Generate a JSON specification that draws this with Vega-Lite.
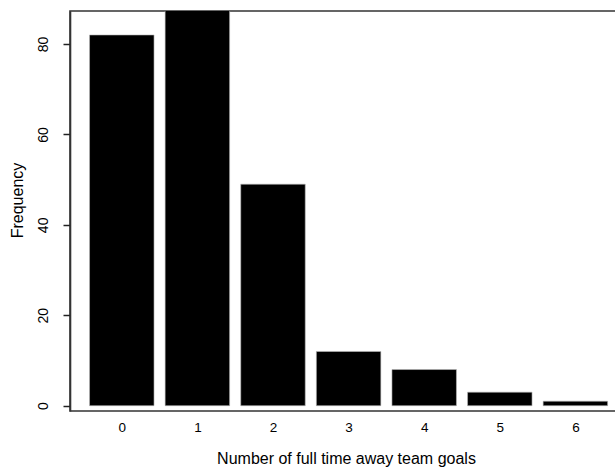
{
  "$schema": "https://vega.github.io/schema/vega-lite/v6.json",
  "autosize": "none",
  "padding": {"left": 70, "top": 11, "right": 0, "bottom": 56},
  "width": 546,
  "height": 400,
  "config": {
    "view": {"stroke": "#333", "strokeWidth": 1.6},
    "font": "Liberation Sans"
  },
  "data": {
    "values": [
      {"goals": 0, "frequency": 82},
      {"goals": 1, "frequency": 88},
      {"goals": 2, "frequency": 49},
      {"goals": 3, "frequency": 12},
      {"goals": 4, "frequency": 8},
      {"goals": 5, "frequency": 3},
      {"goals": 6, "frequency": 1}
    ]
  },
  "mark": {"type": "bar", "color": "black", "size": 64.5, "clip": true, "stroke": "#bbb", "strokeWidth": 0.6},
  "encoding": {
    "x": {
      "field": "goals",
      "type": "quantitative",
      "scale": {"domain": [-0.685, 6.537], "nice": false, "zero": false, "padding": 0},
      "axis": {
        "values": [0, 1, 2, 3, 4, 5, 6],
        "grid": false,
        "ticks": false,
        "domain": false,
        "labelFontSize": 13.5,
        "labelColor": "black",
        "labelPadding": 9,
        "labelBaseline": "top",
        "title": "Number of full time away team goals",
        "titleFontSize": 16,
        "titleFontWeight": "normal",
        "titleColor": "black",
        "titleX": 276,
        "titleY": 52.5,
        "titleBaseline": "alphabetic",
        "titleAlign": "center"
      }
    },
    "y": {
      "field": "frequency",
      "type": "quantitative",
      "scale": {"domain": [-1.17, 87.3], "nice": false, "zero": false, "padding": 0},
      "axis": {
        "values": [0, 20, 40, 60, 80],
        "grid": false,
        "domain": true,
        "domainColor": "#333",
        "domainWidth": 1.6,
        "tickColor": "#222",
        "tickWidth": 1.5,
        "tickSize": 7,
        "labelAngle": -90,
        "labelAlign": "center",
        "labelBaseline": "bottom",
        "labelPadding": 13,
        "labelFontSize": 14,
        "labelColor": "black",
        "title": "Frequency",
        "titleFontSize": 16,
        "titleFontWeight": "normal",
        "titleColor": "black",
        "titleAngle": -90,
        "titleX": -48,
        "titleY": 189,
        "titleAlign": "center",
        "titleBaseline": "alphabetic"
      }
    },
    "y2": {"datum": 0}
  }
}
